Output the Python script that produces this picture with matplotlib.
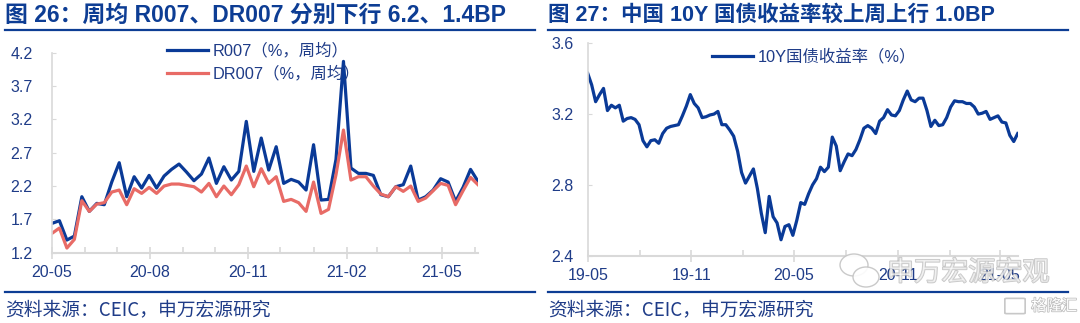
import matplotlib
matplotlib.use("Agg")
import matplotlib.pyplot as plt
import matplotlib.dates as mdates
import matplotlib.patheffects as pe
from matplotlib.lines import Line2D
from matplotlib.patches import Ellipse, FancyBboxPatch
import pandas as pd

plt.rcParams['font.family'] = ['Liberation Sans', 'Noto Sans CJK SC', 'DejaVu Sans']

# weekly R007 / DR007 (%), from 2020-05-01
r007 = [1.64, 1.68, 1.39, 1.45, 2.04, 1.82, 1.94, 1.92, 2.26, 2.55,
        2.04, 2.34, 2.17, 2.36, 2.17, 2.35, 2.45, 2.53, 2.41, 2.28,
        2.38, 2.62, 2.24, 2.49, 2.29, 2.42, 3.17, 2.42, 2.92, 2.44,
        2.79, 2.24, 2.30, 2.26, 2.14, 2.82, 1.99, 2.00, 2.60, 4.07,
        2.47, 2.39, 2.39, 2.36, 2.07, 2.04, 2.19, 2.22, 2.50, 1.99,
        2.04, 2.14, 2.31, 2.26, 1.97, 2.18, 2.45, 2.27]
dr007 = [1.49, 1.57, 1.27, 1.40, 1.98, 1.82, 1.93, 1.95, 2.11, 2.14,
         1.92, 2.16, 2.09, 2.18, 2.09, 2.20, 2.23, 2.23, 2.21, 2.19,
         2.11, 2.24, 2.04, 2.20, 2.07, 2.22, 2.50, 2.19, 2.46, 2.24,
         2.34, 1.97, 2.00, 1.95, 1.82, 2.26, 1.79, 1.85, 2.37, 3.04,
         2.29, 2.34, 2.34, 2.20, 2.08, 2.04, 2.19, 2.12, 2.20, 1.97,
         2.02, 2.13, 2.24, 2.21, 1.92, 2.13, 2.33, 2.22]
dates_l = pd.date_range("2020-05-01", periods=len(r007), freq="7D")

# 10Y government bond yield (%), weekly from 2019-05-01
y10 = [3.43, 3.365, 3.27, 3.31, 3.345, 3.22, 3.25, 3.235, 3.25, 3.16,
       3.175, 3.18, 3.17, 3.14, 3.05, 3.015, 3.05, 3.055, 3.035, 3.09,
       3.12, 3.13, 3.135, 3.14, 3.19, 3.245, 3.31, 3.26, 3.235, 3.18,
       3.185, 3.195, 3.20, 3.215, 3.14, 3.14, 3.11, 3.075, 2.99, 2.87,
       2.81, 2.85, 2.89, 2.78, 2.64, 2.53, 2.735, 2.62, 2.585, 2.49,
       2.565, 2.575, 2.515, 2.60, 2.70, 2.69, 2.75, 2.80, 2.835, 2.90,
       2.875, 2.90, 3.07, 3.02, 2.88, 2.93, 2.975, 2.965, 3.00, 3.055,
       3.12, 3.135, 3.12, 3.09, 3.16, 3.18, 3.225, 3.195, 3.19, 3.22,
       3.28, 3.33, 3.28, 3.27, 3.29, 3.29, 3.22, 3.13, 3.165, 3.135,
       3.14, 3.18, 3.24, 3.275, 3.27, 3.27, 3.26, 3.26, 3.24, 3.20,
       3.205, 3.215, 3.17, 3.18, 3.19, 3.155, 3.15, 3.08, 3.045, 3.09]
dates_r = pd.date_range("2019-05-01", periods=len(y10), freq="7D")

navy = "#0a3a97"
red = "#e86b66"
txt = "#1f3c88"
title_c = "#0d3d94"
grey = "#d9d9d9"
W, H = 1080, 323

fig = plt.figure(figsize=(10.8, 3.23), dpi=100)


def style_axis(ax, ypad):
    for s in ["top", "right"]:
        ax.spines[s].set_visible(False)
    ax.spines["left"].set_color(grey)
    ax.spines["bottom"].set_color(grey)
    ax.spines["left"].set_linewidth(1.2)
    ax.spines["bottom"].set_linewidth(1.5)
    ax.tick_params(axis="y", direction="in", length=3, color=grey, labelsize=11.5,
                   labelcolor=txt, pad=ypad)
    ax.tick_params(axis="x", which="major", direction="inout", length=8, color=grey,
                   width=1.2, labelsize=11.5, labelcolor=txt, pad=5)
    ax.tick_params(axis="x", which="minor", direction="in", length=4, color=grey, width=1.2)
    ax.xaxis.set_major_formatter(mdates.DateFormatter("%y-%m"))


# left panel
ax1 = fig.add_axes([0.0481, 0.2176, 0.3945, 0.6192])
ax1.plot(dates_l, r007, color=navy, lw=2.3)
ax1.plot(dates_l, dr007, color=red, lw=2.3)
ax1.set_ylim(1.2, 4.2)
ax1.set_yticks([1.2, 1.7, 2.2, 2.7, 3.2, 3.7, 4.2])
ax1.set_yticklabels(["1.2", "1.7", "2.2", "2.7", "3.2", "3.7", "4.2"])
ax1.set_xlim(dates_l[0], dates_l[-1])
ax1.xaxis.set_major_locator(mdates.MonthLocator(bymonth=[2, 5, 8, 11]))
ax1.xaxis.set_minor_locator(mdates.MonthLocator())
style_axis(ax1, 14)
h1 = [Line2D([], [], color=navy, lw=2.3), Line2D([], [], color=red, lw=2.3)]
leg1 = fig.legend(h1, ["R007（%，周均）", "DR007（%，周均）"], loc="upper left",
                  bbox_to_anchor=(160 / W, 1 - 36 / H), frameon=False, fontsize=11.8,
                  handlelength=2.5, labelspacing=0.45, handletextpad=0.3, borderaxespad=0)
for t in leg1.get_texts():
    t.set_color(txt)

# right panel
ax2 = fig.add_axes([0.5442, 0.2084, 0.3981, 0.6576])
ax2.plot(dates_r, y10, color=navy, lw=2.3)
ax2.set_ylim(2.4, 3.6)
ax2.set_yticks([2.4, 2.8, 3.2, 3.6])
ax2.set_xlim(dates_r[0], dates_r[-1])
ax2.xaxis.set_major_locator(mdates.MonthLocator(bymonth=[5, 11]))
ax2.xaxis.set_minor_locator(mdates.MonthLocator(bymonth=[2, 8]))
style_axis(ax2, 10)
leg2 = fig.legend([Line2D([], [], color=navy, lw=2.3)], ["10Y国债收益率（%）"], loc="upper left",
                  bbox_to_anchor=(705 / W, 1 - 42 / H), frameon=False, fontsize=11.8,
                  handlelength=2.5, handletextpad=0.3, borderaxespad=0)
for t in leg2.get_texts():
    t.set_color(txt)

# titles, rules and sources
fig.text(5 / W, 1 - 15 / H, "图 26：周均 R007、DR007 分别下行 6.2、1.4BP", fontsize=16.5,
         fontweight="bold", color=title_c, va="center")
fig.text(548 / W, 1 - 15 / H, "图 27：中国 10Y 国债收益率较上周上行 1.0BP", fontsize=15.5,
         fontweight="bold", color=title_c, va="center")
for x0, x1 in [(5, 535), (548, 1068)]:
    fig.add_artist(Line2D([x0 / W, x1 / W], [1 - 30 / H] * 2, color=title_c, lw=1.6))
    fig.add_artist(Line2D([x0 / W, x1 / W], [1 - 292 / H] * 2, color=title_c, lw=1.6))
fig.text(5 / W, 1 - 310 / H, "资料来源：CEIC，申万宏源研究", fontsize=13.5, color=txt,
         va="center", family=["Noto Sans CJK SC"])
fig.text(548 / W, 1 - 310 / H, "资料来源：CEIC，申万宏源研究", fontsize=13.5, color=txt,
         va="center", family=["Noto Sans CJK SC"])

# watermarks (wechat bubbles + hollow text)
for cx, cy, w, h in [(854, 265, 28, 22), (866, 277, 26, 20)]:
    fig.add_artist(Ellipse((cx / W, 1 - cy / H), w / W, h / H, facecolor="white",
                           edgecolor="#c4c4c4", lw=1.0, alpha=0.9))
fig.text(887 / W, 1 - 273 / H, "申万宏源宏观", fontsize=19.5, color="white", alpha=0.55,
         va="center", family=["Noto Sans CJK SC"],
         path_effects=[pe.withStroke(linewidth=1.2, foreground="#9a9a9a")])
fig.add_artist(FancyBboxPatch((1007 / W, 1 - 313 / H), 16 / W, 14 / H,
                              boxstyle="round,pad=0.002", facecolor="none",
                              edgecolor="#c8c8c8", lw=1.2))
fig.text(1077 / W, 1 - 306 / H, "格隆汇", fontsize=11, color="white",
         ha="right", va="center", family=["Noto Sans CJK SC"],
         path_effects=[pe.withStroke(linewidth=1.2, foreground="#c0c0c0")])

fig.savefig("out.png", dpi=100)
